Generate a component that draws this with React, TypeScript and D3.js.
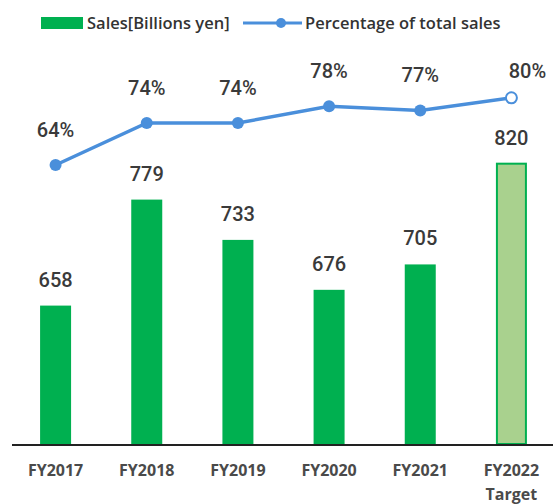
import React, { useEffect, useRef } from 'react';
import * as d3 from 'd3';

// chart data
const categories: string[] = ['FY2017', 'FY2018', 'FY2019', 'FY2020', 'FY2021', 'FY2022'];
const subLabels: string[] = ['', '', '', '', '', 'Target'];
const sales: number[] = [658, 779, 733, 676, 705, 820];
const percentages: number[] = [64, 74, 74, 78, 77, 80];
const isTarget: boolean[] = [false, false, false, false, false, true];

const W = 553;
const H = 504;

const App: React.FC = () => {
  const svgRef = useRef<SVGSVGElement | null>(null);

  useEffect(() => {
    const svg = d3.select(svgRef.current);
    svg.selectAll('*').remove();

    const baseY = 444;
    const numFont = 'Roboto, "Liberation Sans", Arial, sans-serif';
    const txtFont = '"Open Sans", "Liberation Sans", Arial, sans-serif';
    const blue = '#4a8fdb';

    // Scales
    const x = d3.scaleBand()
      .domain(categories)
      .range([10, 557])
      .paddingInner(0.66)
      .paddingOuter(0.33);

    const ySales = d3.scaleLinear()
      .domain([500, 950])
      .range([baseY, baseY - 450 * 0.876]);

    const yPct = d3.scaleLinear()
      .domain([40, 100])
      .range([265.8, 13.8]);

    const cx = (c: string) => (x(c) || 0) + x.bandwidth() / 2;

    // Bars
    svg.selectAll('.bar')
      .data(sales)
      .enter()
      .append('rect')
      .attr('x', (_, i) => (x(categories[i]) || 0) + (isTarget[i] ? 1 : 0))
      .attr('y', d => ySales(d))
      .attr('width', (_, i) => x.bandwidth() - (isTarget[i] ? 2 : 0))
      .attr('height', d => baseY - ySales(d))
      .attr('fill', (_, i) => isTarget[i] ? '#a9d18e' : '#00b050')
      .attr('stroke', (_, i) => isTarget[i] ? '#00b050' : 'none')
      .attr('stroke-width', 2);

    // Bar value labels
    svg.selectAll('.bar-label')
      .data(sales)
      .enter()
      .append('text')
      .attr('x', (_, i) => cx(categories[i]))
      .attr('y', d => ySales(d) - 19)
      .attr('text-anchor', 'middle')
      .attr('font-family', numFont)
      .attr('font-size', 20)
      .attr('font-weight', 500)
      .attr('fill', '#3a3a3a')
      .text(d => d);

    // Axis line
    svg.append('line')
      .attr('x1', 12).attr('x2', W)
      .attr('y1', baseY + 1).attr('y2', baseY + 1)
      .attr('stroke', '#222')
      .attr('stroke-width', 2);

    // Category labels
    svg.selectAll('.cat')
      .data(categories)
      .enter()
      .append('text')
      .attr('x', d => cx(d))
      .attr('y', 476)
      .attr('text-anchor', 'middle')
      .attr('font-family', txtFont)
      .attr('font-size', 16)
      .attr('font-weight', 700)
      .attr('fill', '#4a4a4a')
      .text(d => d);

    svg.selectAll('.sub')
      .data(subLabels)
      .enter()
      .append('text')
      .attr('x', (_, i) => cx(categories[i]))
      .attr('y', 500)
      .attr('text-anchor', 'middle')
      .attr('font-family', txtFont)
      .attr('font-size', 16)
      .attr('font-weight', 700)
      .attr('fill', '#4a4a4a')
      .text(d => d);

    // Line
    const line = d3.line<number>()
      .x((_, i) => cx(categories[i]))
      .y(d => yPct(d));

    svg.append('path')
      .datum(percentages)
      .attr('d', line)
      .attr('fill', 'none')
      .attr('stroke', blue)
      .attr('stroke-width', 3.5);

    svg.selectAll('.pt')
      .data(percentages)
      .enter()
      .append('circle')
      .attr('cx', (_, i) => cx(categories[i]))
      .attr('cy', d => yPct(d))
      .attr('r', (_, i) => isTarget[i] ? 5.5 : 6)
      .attr('fill', (_, i) => isTarget[i] ? '#fff' : blue)
      .attr('stroke', blue)
      .attr('stroke-width', (_, i) => isTarget[i] ? 2 : 0);

    svg.selectAll('.pt-label')
      .data(percentages)
      .enter()
      .append('text')
      .attr('x', (_, i) => cx(categories[i]) + (isTarget[i] ? 16 : 0))
      .attr('y', (d, i) => yPct(d) - (isTarget[i] ? 20 : 28))
      .attr('text-anchor', 'middle')
      .attr('font-family', numFont)
      .attr('font-size', 20)
      .attr('font-weight', 500)
      .attr('fill', '#3a3a3a')
      .text(d => `${d}%`);

    // Legend
    const lg = svg.append('g');
    lg.append('rect')
      .attr('x', 41).attr('y', 17)
      .attr('width', 42).attr('height', 12)
      .attr('fill', '#00b050');
    lg.append('text')
      .attr('x', 87).attr('y', 29)
      .attr('font-family', txtFont)
      .attr('font-size', 16.5)
      .attr('font-weight', 600)
      .attr('fill', '#333')
      .text('Sales[Billions yen]');
    lg.append('line')
      .attr('x1', 243).attr('x2', 302)
      .attr('y1', 23).attr('y2', 23)
      .attr('stroke', blue)
      .attr('stroke-width', 3);
    lg.append('circle')
      .attr('cx', 281).attr('cy', 23).attr('r', 5)
      .attr('fill', blue);
    lg.append('text')
      .attr('x', 305).attr('y', 29)
      .attr('font-family', txtFont)
      .attr('font-size', 16.5)
      .attr('font-weight', 600)
      .attr('fill', '#333')
      .text('Percentage of total sales');
  }, []);

  return (
    <svg
      ref={svgRef}
      width={W}
      height={H}
      style={{ position: 'absolute', left: 0, top: 0, background: '#fff' }}
    />
  );
};

export default App;
